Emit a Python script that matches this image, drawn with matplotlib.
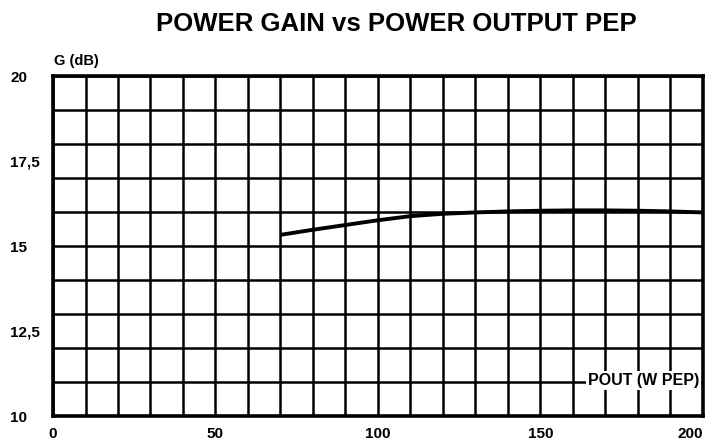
import numpy as np
import matplotlib.pyplot as plt

plt.rcParams['font.family'] = ['Liberation Sans', 'DejaVu Sans']
plt.rcParams['font.weight'] = 'bold'

# curve
pout = [70, 80, 90, 100, 110, 120, 130, 140, 150, 160, 170, 180, 190, 200]
gain = [15.33, 15.48, 15.62, 15.76, 15.88, 15.95, 15.99, 16.02, 16.04, 16.05, 16.05, 16.04, 16.02, 15.99]

x_ticks = [0, 50, 100, 150, 200]
y_ticks = [10, 12.5, 15, 17.5, 20]
y_labels = ["10", "12,5", "15", "17,5", "20"]

fig = plt.figure(figsize=(7.17, 4.45), dpi=100)
ax = fig.add_axes([0.074, 0.065, 0.906, 0.764])

ax.plot(pout, gain, color='black', lw=2.8, solid_capstyle='butt', zorder=3)

ax.set_xlim(0, 200)
ax.set_ylim(10, 20)
ax.set_xticks(x_ticks)
ax.set_yticks(y_ticks)
ax.set_yticklabels(y_labels)
ax.set_xticks(np.arange(0, 201, 10), minor=True)
ax.set_yticks(np.arange(10, 21, 1), minor=True)
ax.xaxis.remove_overlapping_locs = False
ax.yaxis.remove_overlapping_locs = False
ax.grid(which='minor', color='black', lw=1.8)
ax.tick_params(which='both', length=0)
ax.tick_params(axis='x', pad=8, labelsize=11)
ax.tick_params(axis='y', pad=31, labelsize=11)
for lbl in ax.get_yticklabels():
    lbl.set_horizontalalignment('left')
ax.get_xticklabels()[-1].set_horizontalalignment('right')
for s in ax.spines.values():
    s.set_linewidth(2.6)

fig.text(0.553, 0.947, "POWER GAIN vs POWER OUTPUT PEP", ha='center', va='center',
         fontsize=18.5, fontweight='bold')
fig.text(0.076, 0.862, "G (dB)", ha='left', va='center', fontsize=10.5, fontweight='bold')
ax.text(199, 11.05, "POUT (W PEP)", ha='right', va='center', fontsize=11.5, fontweight='bold',
        bbox=dict(facecolor='white', edgecolor='none', pad=1.5), zorder=4)

plt.savefig('out.png', dpi=100)
